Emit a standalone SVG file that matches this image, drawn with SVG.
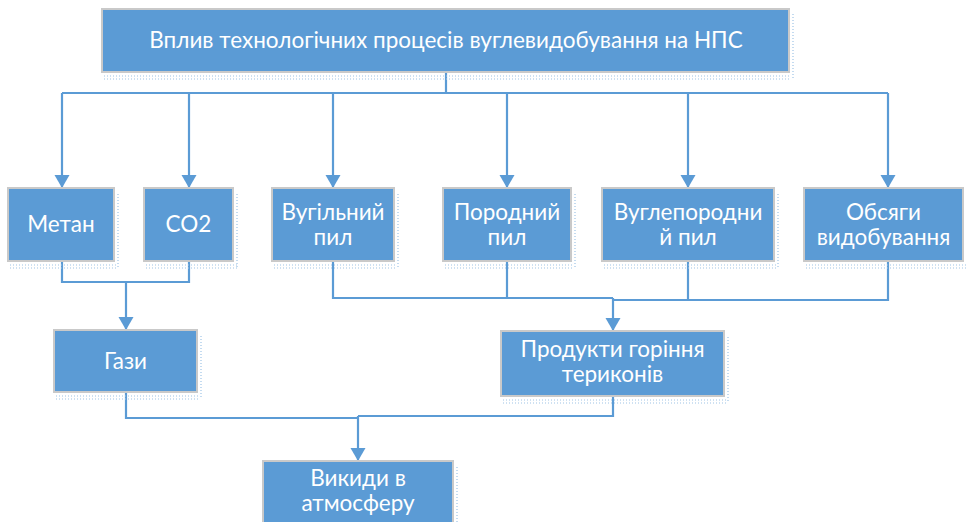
<svg xmlns="http://www.w3.org/2000/svg" width="966" height="522" viewBox="0 0 966 522">
<defs>
<style>
.box{fill:#5b9bd5;stroke:#c9c9c9;stroke-width:2}
.t{font-family:Lato,"Open Sans","Liberation Sans",sans-serif;font-size:22.5px;fill:#ffffff;text-anchor:middle}
.c{fill:none;stroke:#5b9bd5;stroke-width:2.2}
.sh{fill:none;stroke:#9dc3e6;stroke-width:1.2;stroke-dasharray:1 2}
</style>
<marker id="ah" markerUnits="userSpaceOnUse" markerWidth="14" markerHeight="16" refX="13" refY="7.5" orient="auto">
<path d="M0,0 L13,7.5 L0,15 z" fill="#5b9bd5"/>
</marker>
</defs>
<rect width="966" height="522" fill="#ffffff"/>

<g id="connectors">
<path class="c" d="M446 72 V93 M62 93 H888"/>
<path class="c" d="M62 93 V188" marker-end="url(#ah)"/>
<path class="c" d="M189 93 V188" marker-end="url(#ah)"/>
<path class="c" d="M333 93 V188" marker-end="url(#ah)"/>
<path class="c" d="M507 93 V188" marker-end="url(#ah)"/>
<path class="c" d="M688 93 V188" marker-end="url(#ah)"/>
<path class="c" d="M888 93 V188" marker-end="url(#ah)"/>
<path class="c" d="M62 261 V282 H189 V261"/>
<path class="c" d="M126 282 V330" marker-end="url(#ah)"/>
<path class="c" d="M333 261 V298 H613 M507 261 V298 M688 261 V300 M888 261 V300 H613"/>
<path class="c" d="M613 298 V331" marker-end="url(#ah)"/>
<path class="c" d="M126 392 V418 H358 M613 396 V416 H358"/>
<path class="c" d="M358 416 V461" marker-end="url(#ah)"/>
</g>

<g id="n-top">
<rect class="box" x="102" y="9" width="687" height="63"/>
<path class="sh" d="M104 76 H791 M104 79 H791 M793 14 V78"/>
<text class="t" x="446" y="48">Вплив технологічних процесів вуглевидобування на НПС</text>
</g>

<g id="n-metan">
<rect class="box" x="8" y="188" width="106" height="73"/>
<path class="sh" d="M10 265 H117 M10 268 H117 M118 194 V267"/>
<text class="t" x="61" y="232">Метан</text>
</g>

<g id="n-co2">
<rect class="box" x="144" y="188" width="89" height="73"/>
<path class="sh" d="M146 265 H237 M146 268 H237 M237 194 V267"/>
<text class="t" x="188.5" y="232">CO2</text>
</g>

<g id="n-vuh">
<rect class="box" x="272" y="188" width="122" height="73"/>
<path class="sh" d="M274 265 H397 M274 268 H397 M398 194 V267"/>
<text class="t" x="333" y="220">Вугільний</text>
<text class="t" x="333" y="245">пил</text>
</g>

<g id="n-porod">
<rect class="box" x="443" y="188" width="128" height="73"/>
<path class="sh" d="M445 265 H574 M445 268 H574 M575 194 V267"/>
<text class="t" x="507" y="220">Породний</text>
<text class="t" x="507" y="245">пил</text>
</g>

<g id="n-vuhlep">
<rect class="box" x="602" y="188" width="172" height="73"/>
<path class="sh" d="M604 265 H777 M604 268 H777 M778 194 V267"/>
<text class="t" x="688" y="220">Вуглепородни</text>
<text class="t" x="688" y="245">й пил</text>
</g>

<g id="n-obsyag">
<rect class="box" x="804" y="188" width="159" height="73"/>
<path class="sh" d="M806 265 H966 M806 268 H966"/>
<text class="t" x="883.5" y="220">Обсяги</text>
<text class="t" x="883.5" y="245">видобування</text>
</g>

<g id="n-hazy">
<rect class="box" x="54" y="330" width="143" height="62"/>
<path class="sh" d="M56 396 H200 M56 399 H200 M201 336 V398"/>
<text class="t" x="125.5" y="369">Гази</text>
</g>

<g id="n-produkty">
<rect class="box" x="501" y="331" width="223" height="65"/>
<path class="sh" d="M503 400 H727 M503 403 H727 M728 337 V402"/>
<text class="t" x="612.5" y="357">Продукти горіння</text>
<text class="t" x="612.5" y="382">териконів</text>
</g>

<g id="n-vykydy">
<rect class="box" x="263" y="461" width="190" height="70"/>
<path class="sh" d="M457 467 V522"/>
<text class="t" x="358" y="486">Викиди в</text>
<text class="t" x="358" y="511">атмосферу</text>
</g>
</svg>
